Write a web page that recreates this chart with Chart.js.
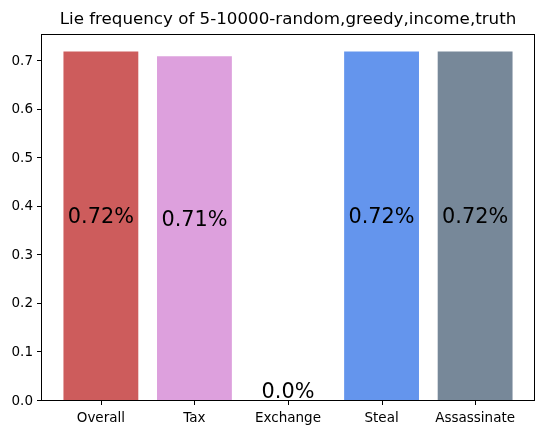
<!DOCTYPE html>
<html>
<head>
<meta charset="utf-8">
<script src="https://cdn.jsdelivr.net/npm/chart.js@4.4.0/dist/chart.umd.min.js"></script>
<style>
  html, body { margin: 0; padding: 0; background: #fff; }
  #wrap { width: 547px; height: 435px; }
</style>
</head>
<body>
<div id="wrap"><canvas id="chart" width="547" height="435"></canvas></div>
<script>
const categories = ['Overall', 'Tax', 'Exchange', 'Steal', 'Assassinate'];
const lieFrequency = [0.72, 0.71, 0.0, 0.72, 0.72];
const barColors = ['#CD5C5C', '#DDA0DD', '#FFA07A', '#6495ED', '#778899'];
const yTicks = [0, 0.1, 0.2, 0.3, 0.4, 0.5, 0.6, 0.7];
const titleText = 'Lie frequency of 5-10000-random,greedy,income,truth';

const FONT = "'DejaVu Sans', sans-serif";

// title over the plot, value labels, tick marks and the box around the plot
const labelsPlugin = {
  id: 'labels',
  afterDatasetsDraw(chart) {
    const { ctx, chartArea, scales } = chart;
    const { left, right, top, bottom } = chartArea;
    ctx.save();
    ctx.strokeStyle = '#000';
    ctx.lineWidth = 1;
    ctx.strokeRect(left + 0.5, top + 0.5, right - left - 1, bottom - top - 1);
    ctx.beginPath();
    categories.forEach((c, i) => {
      const x = Math.round(scales.x.getPixelForValue(i)) + 0.5;
      ctx.moveTo(x, bottom);
      ctx.lineTo(x, bottom + 4);
    });
    yTicks.forEach((v) => {
      const y = Math.round(scales.y.getPixelForValue(v)) - 0.5;
      ctx.moveTo(left - 4, y);
      ctx.lineTo(left, y);
    });
    ctx.stroke();
    ctx.fillStyle = '#000';
    ctx.textAlign = 'center';
    ctx.textBaseline = 'bottom';
    ctx.font = '16.7px ' + FONT;
    ctx.fillText(titleText, (left + right) / 2, top - 6);
    ctx.font = '20.8px ' + FONT;
    lieFrequency.forEach((v, i) => {
      const x = scales.x.getPixelForValue(i);
      const y = scales.y.getPixelForValue(v / 2);
      ctx.fillText(v.toFixed(2).replace(/0$/, '') + '%', x, y + 2);
    });
    ctx.restore();
  }
};

new Chart(document.getElementById('chart'), {
  type: 'bar',
  data: {
    datasets: [{
      data: lieFrequency.map((v, i) => ({ x: i, y: v })),
      backgroundColor: barColors,
      borderWidth: 0,
      barPercentage: 0.8,
      categoryPercentage: 1.0,
    }],
  },
  options: {
    responsive: false,
    devicePixelRatio: 1,
    animation: false,
    layout: { padding: { left: 0, right: 12, top: 34, bottom: 0 } },
    plugins: {
      legend: { display: false },
      tooltip: { enabled: false },
      title: { display: false },
    },
    scales: {
      x: {
        type: 'linear',
        min: -0.64,
        max: 4.64,
        offset: false,
        afterBuildTicks: (s) => { s.ticks = categories.map((c, i) => ({ value: i })); },
        afterFit: (s) => { s.height = 34; },
        ticks: {
          color: '#000',
          font: { family: FONT, size: 13.5 },
          padding: 5,
          maxRotation: 0,
          autoSkip: false,
          callback: (v) => categories[v],
        },
        grid: { drawOnChartArea: false, offset: false, color: 'rgba(0,0,0,0)', tickLength: 4 },
        border: { display: false },
      },
      y: {
        min: 0,
        max: 0.756,
        afterBuildTicks: (s) => { s.ticks = yTicks.map((v) => ({ value: v })); },
        afterFit: (s) => { s.width = 41; },
        ticks: {
          color: '#000',
          font: { family: FONT, size: 13.5 },
          padding: 4,
          callback: (v) => v.toFixed(1),
        },
        grid: { drawOnChartArea: false, color: 'rgba(0,0,0,0)', tickLength: 4 },
        border: { display: false },
      },
    },
  },
  plugins: [labelsPlugin],
});
</script>
</body>
</html>
